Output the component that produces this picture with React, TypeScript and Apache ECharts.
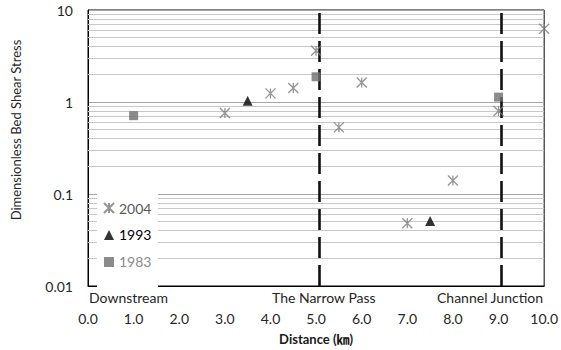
import React, { useEffect, useRef } from "react";
import * as echarts from "echarts";

const seriesNames = ["2004", "1993", "1983"];
const x2004 = [3.0, 4.0, 4.5, 5.0, 5.5, 6.0, 7.0, 8.0, 9.0, 10.0];
const y2004 = [0.76, 1.24, 1.42, 3.6, 0.53, 1.63, 0.048, 0.14, 0.8, 6.25];
const x1993 = [3.5, 7.5];
const y1993 = [1.03, 0.051];
const x1983 = [1.0, 5.0, 9.0];
const y1983 = [0.71, 1.88, 1.13];
const yTicks = [0.01, 0.1, 1, 10];
const minorGrid = [
  0.02, 0.03, 0.04, 0.05, 0.06, 0.07, 0.08, 0.09,
  0.2, 0.3, 0.4, 0.5, 0.6, 0.7, 0.8, 0.9,
  2, 3, 4, 5, 6, 7, 8, 9,
];
const markerLines = [5.07, 9.05];
const annotations = ["Downstream", "The Narrow Pass", "Channel Junction"];
const yTitle = "Dimensionless Bed Shear Stress";
const xTitle = "Distance (㎞)";

const FONT = 'Lato, "Noto Sans", "Noto Sans CJK JP", sans-serif';
const STAR = "path://M0,0L10,10M10,0L0,10M5,0L5,10";
const TXT = "#262626";

function pairs(xs: number[], ys: number[]) {
  return xs.map((x, i) => [x, ys[i]]);
}

export default function App() {
  const ref = useRef<HTMLDivElement>(null);
  useEffect(() => {
    document.body.style.margin = "0";
    if (!ref.current) return;
    const chart = echarts.init(ref.current, null, { renderer: "svg" });
    chart.setOption({
      animation: false,
      grid: {
        left: 88,
        top: 10,
        width: 458,
        height: 280,
        show: true,
        borderColor: "#000",
        borderWidth: 1,
        backgroundColor: "transparent",
      },
      legend: {
        orient: "vertical",
        left: 103,
        top: 201,
        padding: 0,
        itemGap: 13,
        itemWidth: 10,
        itemHeight: 10,
        z: 20,
        textStyle: { fontFamily: FONT, fontSize: 14 },
        data: [
          { name: seriesNames[0], icon: STAR, textStyle: { color: "#595959" } },
          { name: seriesNames[1], icon: "triangle", textStyle: { color: "#000" } },
          { name: seriesNames[2], icon: "rect", textStyle: { color: "#8c8c8c" } },
        ],
      },
      graphic: [
        {
          type: "rect",
          z: 10,
          shape: { x: 97, y: 186, width: 61, height: 103 },
          style: { fill: "#fff" },
        },
        {
          type: "text",
          left: 89,
          top: 290,
          style: { text: annotations[0], fontFamily: FONT, fontSize: 14, fill: TXT },
        },
        {
          type: "text",
          left: 272,
          top: 290,
          style: { text: annotations[1], fontFamily: FONT, fontSize: 14, fill: TXT },
        },
        {
          type: "text",
          left: 437,
          top: 290,
          style: { text: annotations[2], fontFamily: FONT, fontSize: 14, fill: TXT },
        },
        {
          type: "text",
          x: 16,
          y: 130,
          rotation: Math.PI / 2,
          style: {
            text: yTitle,
            fontFamily: FONT,
            fontSize: 13,
            fill: TXT,
            align: "center",
            verticalAlign: "middle",
          },
        },
      ],
      xAxis: {
        type: "value",
        min: 0,
        max: 10,
        interval: 1,
        name: xTitle,
        nameLocation: "middle",
        nameGap: 46,
        nameTextStyle: { fontFamily: FONT, fontSize: 13, fontWeight: "bold", color: "#1a1a1a" },
        axisLine: { show: true, lineStyle: { color: "#000", width: 1 } },
        axisTick: { show: false },
        splitLine: { show: false },
        axisLabel: {
          margin: 25,
          fontFamily: FONT,
          fontSize: 14,
          color: TXT,
          formatter: (v: number) => v.toFixed(1),
        },
      },
      yAxis: {
        type: "log",
        logBase: 10,
        min: yTicks[0],
        max: yTicks[yTicks.length - 1],
        axisLine: { show: true, lineStyle: { color: "#000", width: 1 } },
        axisTick: { show: false },
        splitLine: { show: true, lineStyle: { color: "#a6a6a6", width: 1 } },
        axisLabel: {
          margin: 15,
          fontFamily: FONT,
          fontSize: 14,
          color: TXT,
          formatter: (v: number) => String(v),
        },
      },
      series: [
        {
          name: seriesNames[0],
          type: "scatter",
          symbol: STAR,
          symbolSize: 10,
          z: 5,
          itemStyle: { color: "rgba(0,0,0,0)", borderColor: "#7a7a7a", borderWidth: 1.3 },
          data: pairs(x2004, y2004),
        },
        {
          name: seriesNames[1],
          type: "scatter",
          symbol: "triangle",
          symbolSize: 10,
          z: 5,
          itemStyle: { color: "#000" },
          data: pairs(x1993, y1993),
        },
        {
          name: seriesNames[2],
          type: "scatter",
          symbol: "rect",
          symbolSize: 9,
          z: 5,
          itemStyle: { color: "#6e6e6e" },
          data: pairs(x1983, y1983),
        },
        {
          name: "grid-helper",
          type: "scatter",
          data: [],
          z: 1,
          silent: true,
          markLine: {
            silent: true,
            symbol: "none",
            label: { show: false },
            lineStyle: { color: "#c8c8c8", width: 1, type: "solid" },
            data: minorGrid.map((v) => ({ yAxis: v })),
          },
        },
        {
          name: "divider-helper",
          type: "scatter",
          data: [],
          z: 4,
          silent: true,
          markLine: {
            silent: true,
            symbol: "none",
            label: { show: false },
            lineStyle: { color: "#111", width: 2.6, type: [21, 7] },
            data: markerLines.map((v) => ({ xAxis: v })),
          },
        },
      ],
    });
    return () => chart.dispose();
  }, []);
  return <div ref={ref} style={{ width: 561, height: 350 }} />;
}
